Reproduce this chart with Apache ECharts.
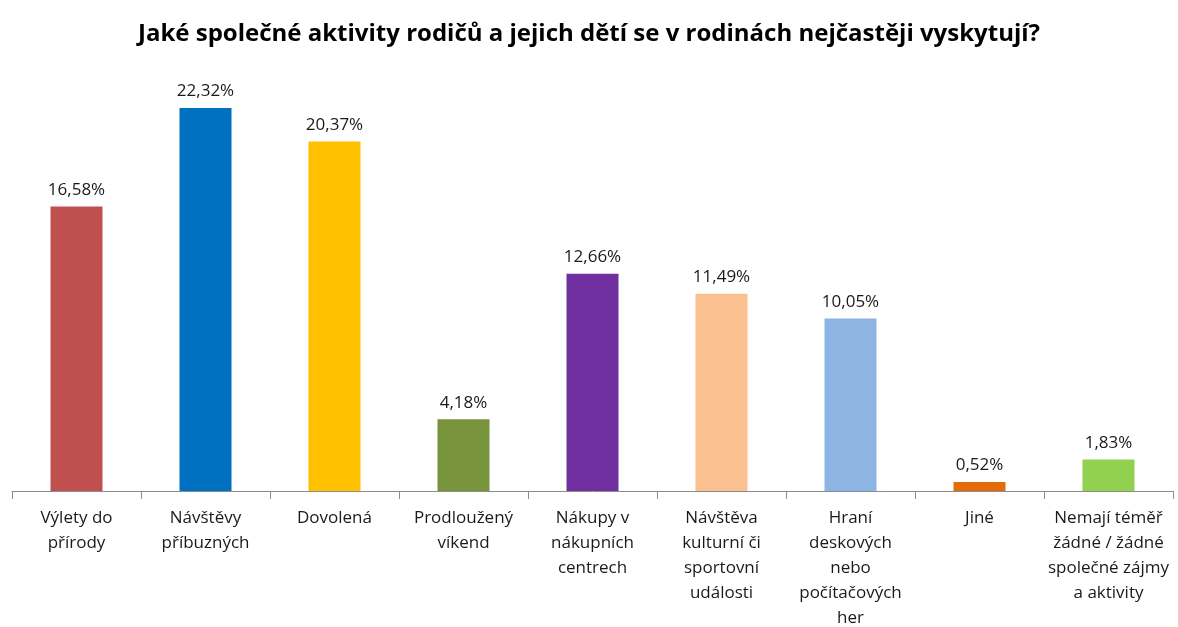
<!DOCTYPE html>
<html>
<head>
<meta charset="utf-8">
<script src="https://cdn.jsdelivr.net/npm/echarts@6/dist/echarts.min.js"></script>
<style>
  html, body { margin: 0; padding: 0; background: #fff; }
  #chart { width: 1178px; height: 627px; }
</style>
</head>
<body>
<div id="chart"></div>
<script>
var categories = [
  "Výlety do\npřírody",
  "Návštěvy\npříbuzných",
  "Dovolená",
  "Prodloužený\nvíkend",
  "Nákupy v\nnákupních\ncentrech",
  "Návštěva\nkulturní či\nsportovní\nudálosti",
  "Hraní\ndeskových\nnebo\npočítačových\nher",
  "Jiné",
  "Nemají téměř\nžádné / žádné\nspolečné zájmy\na aktivity"
];
var values = [16.58, 22.32, 20.37, 4.18, 12.66, 11.49, 10.05, 0.52, 1.83];
var barColors = ["#C0504D", "#0070C0", "#FFC000", "#77933C", "#7030A0", "#FAC090", "#8EB4E3", "#E36C09", "#92D050"];

var myChart = echarts.init(document.getElementById("chart"));
var option = {
  animation: false,
  title: {
    text: "Jaké společné aktivity rodičů a jejich dětí se v rodinách nejčastěji vyskytují?",
    left: "center",
    top: 17,
    textStyle: {
      fontFamily: "Open Sans",
      fontWeight: "bold",
      fontSize: 24,
      color: "#000"
    }
  },
  grid: {
    left: 12,
    right: 5,
    top: 62,
    bottom: 136,
    outerBoundsMode: "none"
  },
  xAxis: {
    type: "category",
    data: categories,
    axisLine: { lineStyle: { color: "#8c8c8c", width: 1 } },
    axisTick: { show: true, length: 8, lineStyle: { color: "#8c8c8c" } },
    axisLabel: {
      interval: 0,
      margin: 15,
      color: "#1a1a1a",
      fontFamily: "Open Sans",
      fontSize: 17,
      lineHeight: 25
    }
  },
  yAxis: {
    type: "value",
    min: 0,
    max: 25,
    show: false
  },
  series: [
    {
      type: "bar",
      barWidth: 52,
      data: values.map(function (v, i) {
        return { value: v, itemStyle: { color: barColors[i] } };
      }),
      label: {
        show: true,
        position: "top",
        distance: 8,
        color: "#1a1a1a",
        fontFamily: "Open Sans",
        fontSize: 17,
        formatter: function (p) {
          return p.value.toFixed(2).replace(".", ",") + "%";
        }
      }
    }
  ]
};
myChart.setOption(option);
</script>
</body>
</html>
